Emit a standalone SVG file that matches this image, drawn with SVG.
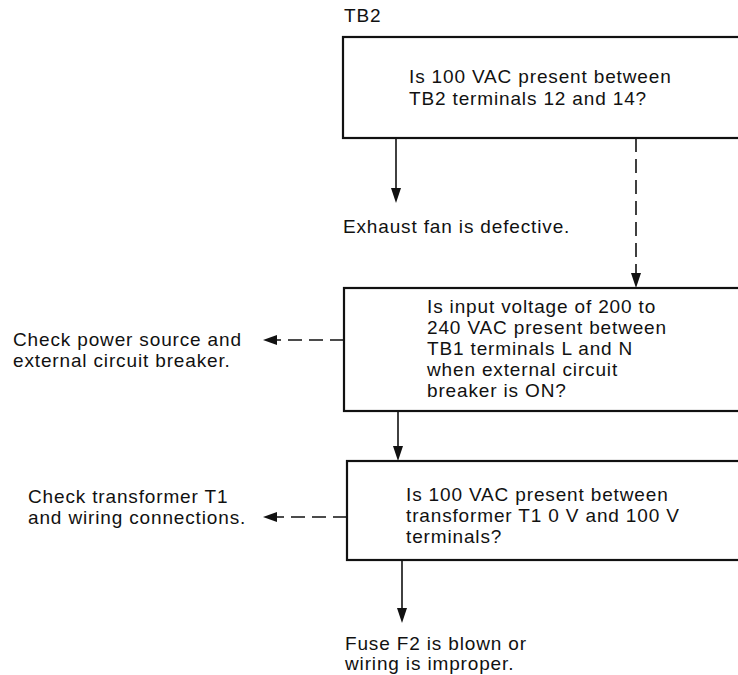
<svg xmlns="http://www.w3.org/2000/svg" width="738" height="675" viewBox="0 0 738 675">
<style>
text{font-family:"Liberation Sans",Arial,sans-serif;font-size:19px;letter-spacing:0.85px;fill:#111}
.box{fill:#fff;stroke:#111;stroke-width:2.2}
.ln{stroke:#111;stroke-width:1.6;fill:none}
.dash{stroke-dasharray:14 7}
.head{fill:#111}
</style>
<rect width="738" height="675" fill="#fff"/>
<g id="connectors">
<line class="ln" x1="396" y1="138" x2="396" y2="188"/>
<path class="head" d="M391,188 L401,188 L396,203 Z"/>
<line class="ln dash" x1="636" y1="138" x2="636" y2="273"/>
<path class="head" d="M631,273 L641,273 L636,288 Z"/>
<line class="ln" x1="398" y1="411" x2="398" y2="446"/>
<path class="head" d="M393,446 L403,446 L398,461 Z"/>
<line class="ln" x1="402" y1="560" x2="402" y2="608"/>
<path class="head" d="M397,608 L407,608 L402,623 Z"/>
<line class="ln dash" x1="344" y1="340" x2="277" y2="340"/>
<path class="head" d="M277,335 L277,345 L263,340 Z"/>
<line class="ln dash" x1="347" y1="517" x2="277" y2="517"/>
<path class="head" d="M277,512 L277,522 L263,517 Z"/>
</g>
<g id="label-tb2"><text x="344" y="22">TB2</text></g>
<g id="q1">
<rect class="box" x="343" y="37" width="410" height="101"/>
<text x="409" y="83">Is 100 VAC present between</text>
<text x="409" y="105">TB2 terminals 12 and 14?</text>
</g>
<g id="r-exhaust"><text x="343" y="233">Exhaust fan is defective.</text></g>
<g id="q2">
<rect class="box" x="344" y="288" width="410" height="123"/>
<text x="427" y="313">Is input voltage of 200 to</text>
<text x="427" y="334">240 VAC present between</text>
<text x="427" y="355">TB1 terminals L and N</text>
<text x="427" y="376">when external circuit</text>
<text x="427" y="397">breaker is ON?</text>
</g>
<g id="r-power">
<text x="13" y="346">Check power source and</text>
<text x="13" y="367">external circuit breaker.</text>
</g>
<g id="q3">
<rect class="box" x="347" y="461" width="410" height="99"/>
<text x="406" y="501">Is 100 VAC present between</text>
<text x="406" y="522">transformer T1 0 V and 100 V</text>
<text x="406" y="543">terminals?</text>
</g>
<g id="r-transformer">
<text x="28" y="503">Check transformer T1</text>
<text x="28" y="524">and wiring connections.</text>
</g>
<g id="r-fuse">
<text x="345" y="650">Fuse F2 is blown or</text>
<text x="345" y="670">wiring is improper.</text>
</g>
</svg>
